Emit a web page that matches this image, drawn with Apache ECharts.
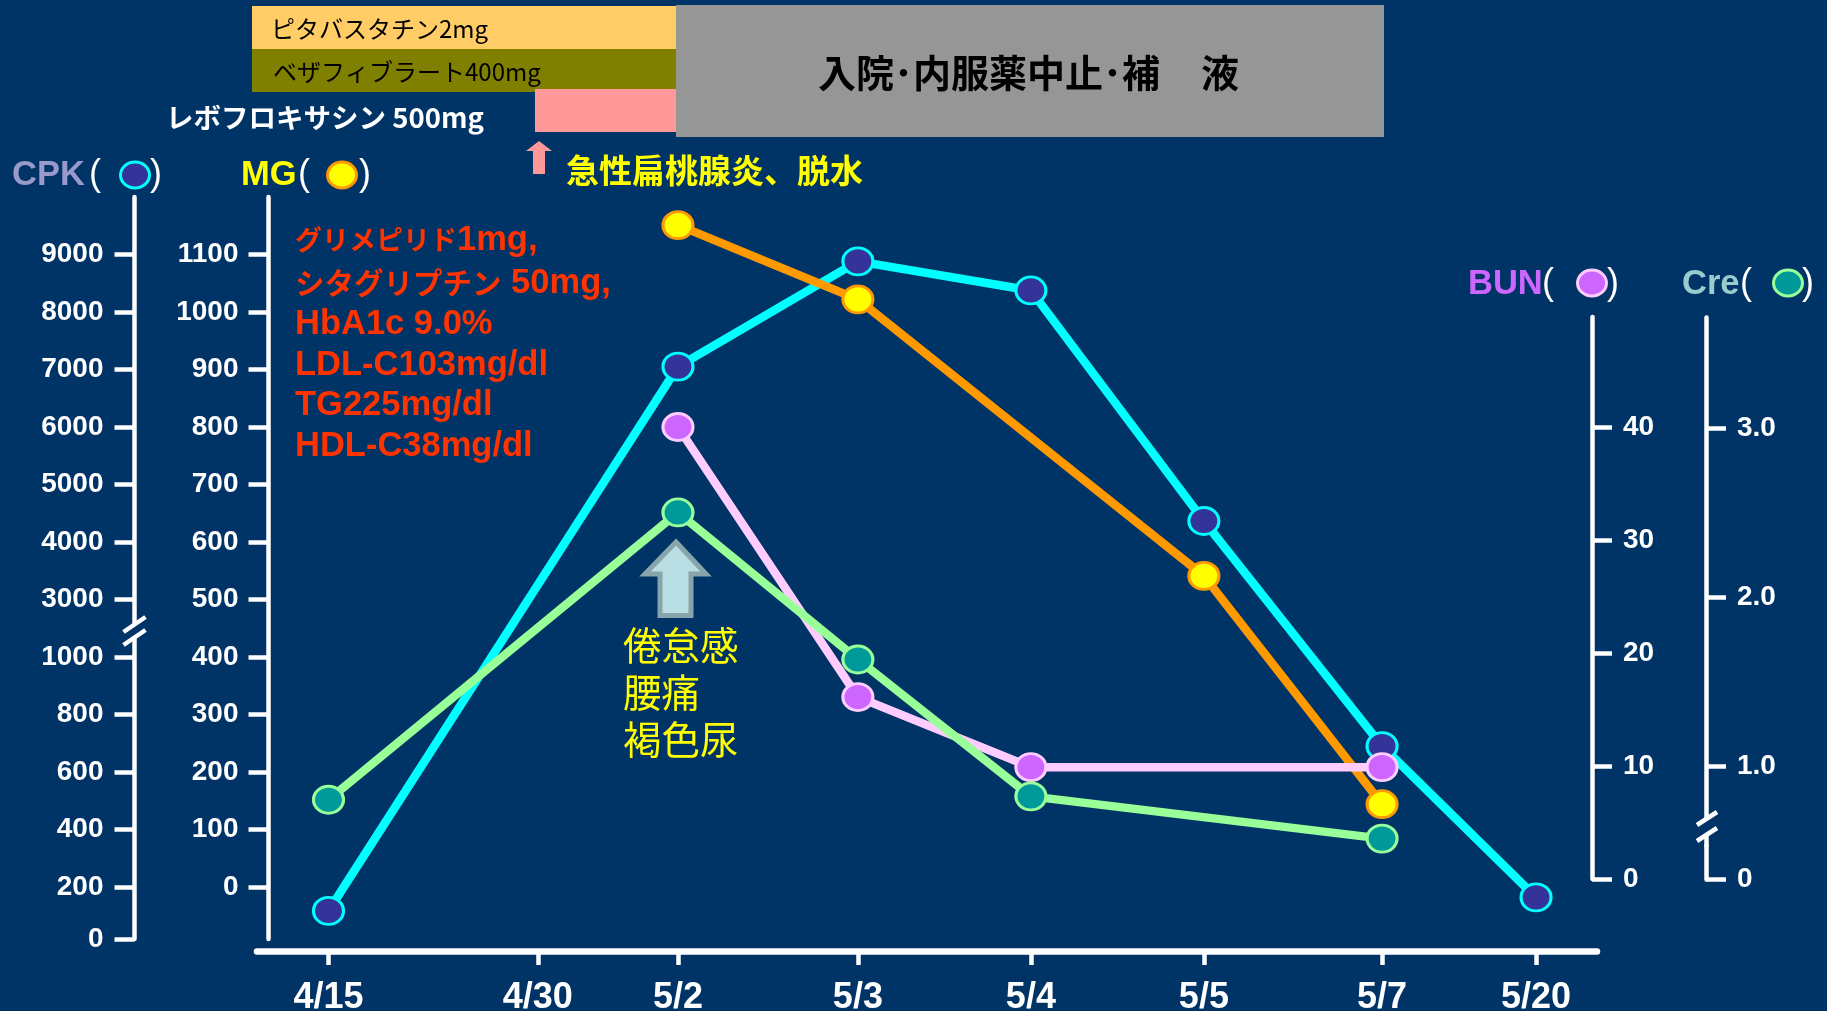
<!DOCTYPE html>
<html>
<head>
<meta charset="utf-8">
<style>html,body{margin:0;padding:0;background:#003366}#chart{width:1827px;height:1011px}</style>
<script src="https://cdn.jsdelivr.net/npm/echarts@6/dist/echarts.min.js"></script>
</head>
<body>
<div id="chart"></div>
<script>
// Clinical course: enzyme and renal markers by date, on four separate vertical scales.
const dateLabels = ['4/15', '4/30', '5/2', '5/3', '5/4', '5/5', '5/7', '5/20'];
// Unevenly spaced dates along the horizontal axis, in column widths from the first date.
const datePositions = [0, 1.21, 2.02, 3.06, 4.06, 5.06, 6.09, 6.98];

const cpkValues = [108, null, 7050, 8880, 8375, 4365, 690, 160];
const mgValues = [null, null, 1151, 1022, null, 541, 144, null];
const bunValues = [null, null, 40, 16.1, 9.9, null, 9.9, null];
const creValues = [0.8, null, 2.5, 1.63, 0.82, null, 0.57, null];

const cpkTicks = [0, 200, 400, 600, 800, 1000, 3000, 4000, 5000, 6000, 7000, 8000, 9000];
const mgTicks = [0, 100, 200, 300, 400, 500, 600, 700, 800, 900, 1000, 1100];
const bunTicks = [0, 10, 20, 30, 40];
const creTicks = [0, 1, 2, 3];

const FONT = '"Liberation Sans", Arial, sans-serif';
const CJK = '"Noto Sans CJK JP", sans-serif';
const WHITE = '#ffffff';
const COLUMN = 173;          // px per unit of datePositions
const ZERO_X = 328.5;        // px of the first date
const MG_PX = 57.5 / 100;    // px per mg unit

// The CPK axis is broken: each tick past the first occupies one even step on screen.
const cpkSteps = [-0.904, 0, 1, 2, 3, 4, 5, 6, 7, 8, 9, 10, 11];
function cpkToStep(v) {
  if (v == null) return null;
  for (let i = 1; i < cpkTicks.length; i++) {
    if (v <= cpkTicks[i]) {
      const t = (v - cpkTicks[i - 1]) / (cpkTicks[i] - cpkTicks[i - 1]);
      return cpkSteps[i - 1] + t * (cpkSteps[i] - cpkSteps[i - 1]);
    }
  }
  return cpkSteps[cpkSteps.length - 1];
}
const pair = (vals, map) => vals.map((v, i) => [datePositions[i], map ? map(v) : v]);

function axisCommon(ticks, margin, fmt) {
  return {
    type: 'value',
    splitLine: { show: false },
    axisLine: { show: true, onZero: false, lineStyle: { color: WHITE, width: 4.5 } },
    axisTick: { show: true, length: 20, customValues: ticks, lineStyle: { color: WHITE, width: 4.5 } },
    axisLabel: {
      show: true, customValues: ticks, margin, color: WHITE, fontFamily: FONT, fontWeight: 'bold',
      fontSize: 28, padding: [5, 0, 0, 0], showMinLabel: true, showMaxLabel: true, formatter: fmt
    }
  };
}

function lineSeries(name, data, xi, yi, line, fill) {
  return {
    name, type: 'line', data, xAxisIndex: xi, yAxisIndex: yi, connectNulls: true, clip: false,
    showAllSymbol: true, symbol: 'circle', symbolSize: [30, 27],
    lineStyle: { color: line, width: 8.5, cap: 'round' },
    itemStyle: { color: fill, borderColor: line, borderWidth: 3 },
    animation: false, silent: true
  };
}

const hiddenX = (min, max, gi) => ({
  type: 'value', gridIndex: gi, min, max, show: false
});

const chart = echarts.init(document.getElementById('chart'), null, { renderer: 'canvas' });

// Text block helpers for the annotations laid out around the plot.
const txt = (x, y, text, fontSize, fill, extra) => ({
  type: 'text', x, y, z: 50,
  style: Object.assign({ text, fontSize, fill, fontFamily: CJK, verticalAlign: 'middle', align: 'left' }, extra || {})
});
const rect = (x0, y0, x1, y1, fill, z) => ({
  type: 'rect', z: z || 5, shape: { x: x0, y: y0, width: x1 - x0, height: y1 - y0 }, style: { fill }
});
const poly = (points, style, z) => ({ type: 'polygon', z: z || 45, shape: { points }, style });
const legendMark = (cx, cy, fill, stroke) => ({
  type: 'ellipse', z: 50, shape: { cx, cy, rx: 14.5, ry: 13 }, style: { fill, stroke, lineWidth: 3 }
});
const paren = (x, y, s) => txt(x, y, s, 36, WHITE, { fontFamily: FONT, align: 'center' });
const head = (x, y, s, fill) => txt(x, y, s, 34.5, fill, { fontFamily: FONT, fontWeight: 'bold' });
const slash = (x0, y0, x1, y1) => ({
  type: 'line', z: 60, shape: { x1: x0, y1: y0, x2: x1, y2: y1 }, style: { stroke: WHITE, lineWidth: 4.5 }
});

// Background note: katakana runs are set smaller than the Latin text next to them.
const noteLines = ['{s|グリメピリド}{l|1mg,}', '{m|シタグリプチン}{l| 50mg,}', '{l|HbA1c 9.0%}',
  '{l|LDL-C103mg/dl}', '{l|TG225mg/dl}', '{l|HDL-C38mg/dl}'];
const noteY = [240, 283, 324, 365, 405, 446];
const noteRich = {
  s: { fontFamily: CJK, fontWeight: 'bold', fontSize: 27, fill: '#FF3300', color: '#FF3300' },
  m: { fontFamily: CJK, fontWeight: 'bold', fontSize: 29.5, fill: '#FF3300', color: '#FF3300' },
  l: { fontFamily: FONT, fontWeight: 'bold', fontSize: 34.5, fill: '#FF3300', color: '#FF3300' }
};
const symptoms = ['倦怠感', '腰痛', '褐色尿'];
const symptomY = [645, 692, 739];

const graphic = [
  rect(252, 6, 677, 49, '#FFCC66'),
  rect(252, 49, 677, 92, '#808000'),
  rect(535, 89, 677, 132, '#FF9999', 6),
  rect(676, 5, 1384, 137, '#969696', 7),
  txt(271, 29, 'ピタバスタチン2mg', 24, '#000000'),
  txt(273, 72, 'ベザフィブラート400mg', 24, '#000000'),
  txt(166, 118, 'レボフロキサシン 500mg', 27.5, WHITE, { fontWeight: 'bold' }),
  txt(818, 73, '入院･内服薬中止･補', 38, '#000000', { fontWeight: 'bold' }),
  txt(1201, 73, '液', 38, '#000000', { fontWeight: 'bold' }),
  txt(566, 170, '急性扁桃腺炎、脱水', 33, '#FFFF00', { fontWeight: 'bold' }),
  poly([[539, 141], [552, 151], [545, 151], [545, 174], [533, 174], [533, 151], [526, 151]], { fill: '#FF9999' }),
  poly([[676, 542], [706, 574], [691, 574], [691, 615.5], [660, 615.5], [660, 574], [645, 574]],
    { fill: '#B9DEE3', stroke: '#88A5AB', lineWidth: 5 }),

  head(12, 175, 'CPK', '#9999CC'),
  paren(95, 175, '('), legendMark(135, 175, '#333399', '#00FFFF'), paren(156, 175, ')'),
  head(241, 175, 'MG', '#FFFF00'),
  paren(304, 175, '('), legendMark(342, 175, '#FFFF00', '#FF9900'), paren(365, 175, ')'),
  head(1468, 284, 'BUN', '#CC66FF'),
  paren(1548, 284, '('), legendMark(1592, 283, '#CC66FF', '#FFCCFF'), paren(1613, 284, ')'),
  head(1682, 284, 'Cre', '#99CCCC'),
  paren(1746, 284, '('), legendMark(1788, 283, '#009999', '#99FF99'), paren(1808, 284, ')'),

  // Break marks on the CPK and Cre axes
  rect(128, 625, 142, 636, '#003366', 55),
  slash(123.5, 632, 145.5, 617), slash(123.5, 645, 145.5, 630),
  rect(1700, 819, 1712, 834, '#003366', 55),
  slash(1697, 825, 1717, 812), slash(1697, 841, 1717, 828)
].concat(
  noteLines.map((s, i) => txt(295, noteY[i], s, 34.5, '#FF3300', { fontFamily: FONT, fontWeight: 'bold', rich: noteRich })),
  symptoms.map((s, i) => txt(623, symptomY[i], s, 38.5, '#FFFF00'))
);

const plotLeft = 268.5, plotRight = 1597, plotTop = 197, plotBottom = 939;
const rightTop = 317, rightBottom = 879;
const gridBox = (left, right, top, bottom) => ({
  left, top, width: right - left, height: bottom - top, outerBoundsMode: 'none'
});

const option = {
  backgroundColor: '#003366',
  animation: false,
  graphic: { elements: graphic },
  grid: [
    gridBox(plotLeft, plotRight, plotTop, plotBottom),
    gridBox(ZERO_X, 1592, rightTop, rightBottom),
    gridBox(ZERO_X, 1706, rightTop, rightBottom),
    gridBox(257, plotRight, plotTop, 951)
  ],
  xAxis: [
    hiddenX((plotLeft - ZERO_X) / COLUMN, (plotRight - ZERO_X) / COLUMN, 0),
    hiddenX(0, (1592 - ZERO_X) / COLUMN, 1),
    hiddenX(0, (1706 - ZERO_X) / COLUMN, 2),
    {
      type: 'value', gridIndex: 3, min: (257 - ZERO_X) / COLUMN, max: (plotRight - ZERO_X) / COLUMN,
      position: 'bottom', splitLine: { show: false },
      axisLine: { show: true, onZero: false, lineStyle: { color: WHITE, width: 6.5 } },
      axisTick: { show: true, length: 14, customValues: datePositions, lineStyle: { color: WHITE, width: 4.5 } },
      axisLabel: {
        show: true, customValues: datePositions, margin: 29, color: WHITE, fontFamily: FONT, fontWeight: 'bold', fontSize: 36,
        formatter: v => dateLabels[datePositions.indexOf(v)] || ''
      }
    }
  ],
  yAxis: [
    Object.assign(axisCommon(mgTicks, 30, v => String(v)), {
      gridIndex: 0, position: 'left',
      min: -(plotBottom - 887) / MG_PX, max: (887 - plotTop) / MG_PX
    }),
    Object.assign(axisCommon(cpkSteps, 31, v => String(cpkTicks[cpkSteps.indexOf(v)])), {
      gridIndex: 0, position: 'left', offset: plotLeft - 134.5,
      min: -(plotBottom - 887) / 57.5, max: (887 - plotTop) / 57.5
    }),
    Object.assign(axisCommon(bunTicks, 31, v => String(v)), {
      gridIndex: 1, position: 'right', min: 0, max: (rightBottom - rightTop) / 11.3
    }),
    Object.assign(axisCommon(creTicks, 31, v => (v === 0 ? '0' : v.toFixed(1))), {
      gridIndex: 2, position: 'right', min: 0,
      max: 0.331 + (rightBottom - rightTop) / 169,
      breaks: [{ start: 0.2, end: 0.531, gap: 0 }],
      breakArea: { show: false }
    }),
    { type: 'value', gridIndex: 3, show: false, min: 0, max: 1 }
  ],
  series: [
    lineSeries('CPK', pair(cpkValues, cpkToStep), 0, 1, '#00FFFF', '#333399'),
    lineSeries('MG', pair(mgValues), 0, 0, '#FF9900', '#FFFF00'),
    lineSeries('BUN', pair(bunValues), 1, 2, '#FFCCFF', '#CC66FF'),
    lineSeries('Cre', pair(creValues), 2, 3, '#99FF99', '#009999'),
    // Keeps the date axis grid populated
    { type: 'line', xAxisIndex: 3, yAxisIndex: 4, data: [], silent: true }
  ]
};
chart.setOption(option);
</script>
</body>
</html>
